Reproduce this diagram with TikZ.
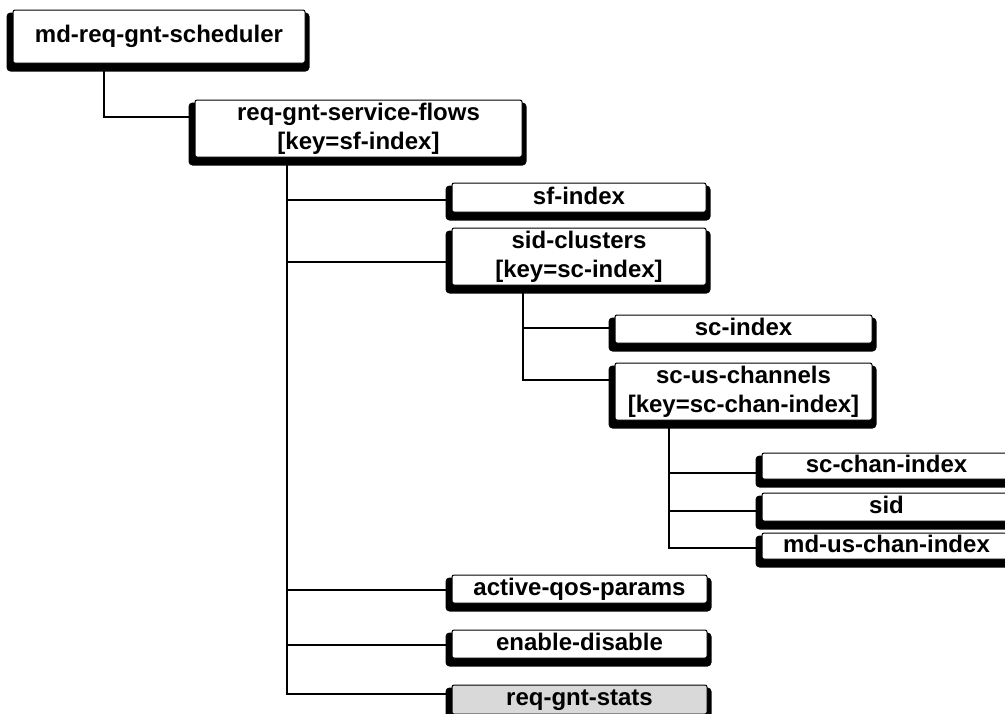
\documentclass[tikz,border=0pt]{standalone}
\usepackage{fontspec}
\setmainfont{Liberation Sans}
\pgfdeclarelayer{links}
\pgfdeclarelayer{shade}
\pgfsetlayers{links,shade,main}
% one tree box: [fill] name, x0, y0, x1, y1, text (pixel-like units, y downwards)
\newcommand\treebox[7][white]{%
  \pgfmathsetmacro\boxw{#5-#3}%
  \pgfmathsetmacro\boxh{#6-#4}%
  \node[box, fill=#1, minimum width=\boxw pt, minimum height=\boxh pt]
    (#2) at ({(#3+#5)/2},{(#4+#6)/2})
    {\rule{0pt}{17pt}#7\rule[-4pt]{0pt}{4pt}};
  \begin{pgfonlayer}{shade}
    \fill[boxshadow] ([xshift=-6pt,yshift=-3pt]#2.north west)
      rectangle ([xshift=4pt,yshift=-8pt]#2.south east);
  \end{pgfonlayer}}
\begin{document}
\begin{tikzpicture}[x=1pt,y=-1pt,
  box/.style={draw, line width=1pt, rounded corners=2pt, inner sep=0pt,
    align=center, font=\fontsize{24}{29}\selectfont\bfseries},
  boxshadow/.style={black, rounded corners=4pt},
  link/.style={line width=1.3pt}]
\useasboundingbox (0,0) rectangle (1005,713);
\clip (0,0) rectangle (1005,713);

\treebox{root}{13}{10}{305}{63}{md-req-gnt-scheduler}
\treebox{flows}{195}{100}{522}{157}{req-gnt-service-flows\\{[key=sf-index]}}
\treebox{sfidx}{452}{183}{706}{212}{sf-index}
\treebox{clusters}{452}{228}{706}{285}{sid-clusters\\{[key=sc-index]}}
\treebox{scidx}{615}{315}{872}{343}{sc-index}
\treebox{chans}{615}{363}{872}{420}{sc-us-channels\\{[key=sc-chan-index]}}
\treebox{chanidx}{762}{453}{1011}{479}{sc-chan-index}
\treebox{sid}{762}{493}{1011}{521}{sid}
\treebox{mdus}{762}{533}{1011}{559}{md-us-chan-index}
\treebox{qos}{452}{575}{707}{603}{active-qos-params}
\treebox{enable}{452}{630}{707}{658}{enable-disable}
\treebox[gray!30]{stats}{452}{685}{707}{714}{req-gnt-stats}

\begin{pgfonlayer}{links}
  \draw[link] (root.south -| 104,0) |- (flows.west |- 0,117);
  \foreach \n/\y in {sfidx/200, clusters/262, qos/590, enable/645, stats/694}
    \draw[link] (flows.south -| 287,0) |- (\n.west |- 0,\y);
  \foreach \n/\y in {scidx/328, chans/380}
    \draw[link] (clusters.south -| 523,0) |- (\n.west |- 0,\y);
  \foreach \n/\y in {chanidx/473, sid/511, mdus/548}
    \draw[link] (chans.south -| 669,0) |- (\n.west |- 0,\y);
\end{pgfonlayer}
\end{tikzpicture}
\end{document}
